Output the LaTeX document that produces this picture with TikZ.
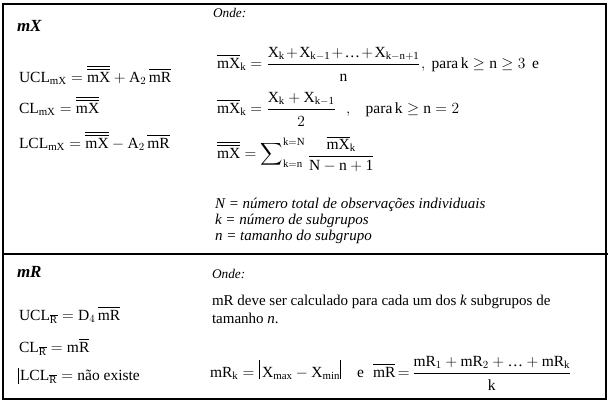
\RequirePackage{fix-cm}
\documentclass[tikz,border=0pt]{standalone}
\usepackage{amsmath,amssymb}
\usepackage{fontspec}
\setmainfont{Liberation Serif}
\newcommand{\rmv}[1]{\mathrm{#1}}
\newcommand{\dstrut}{\rule{0pt}{15pt}}
\newcommand{\absbar}{\mathord{\rule[-1.6pt]{0.8pt}{18.3pt}}}
\newcommand{\eqfont}{\fontsize{15.5}{18}\selectfont}
\newcommand{\txtfont}{\fontsize{15}{18}\selectfont}
\newcommand{\smfont}{\fontsize{13.3}{16}\selectfont\itshape}
\newcommand{\ttlfont}{\fontsize{17}{20}\selectfont\bfseries\itshape}
\begin{document}
\begin{tikzpicture}[x=1pt,y=-1pt,
  txt/.style={anchor=base west,inner sep=0pt,outer sep=0pt,font=\txtfont},
  itx/.style={txt,font=\txtfont\itshape},
  eq/.style={txt,font=\eqfont},
  ttl/.style={txt,font=\ttlfont},
  onde/.style={txt,font=\smfont},
  rule/.style={line width=1.2pt,black}]
\useasboundingbox (0,0) rectangle (610,404);
% table lines
\draw[rule] (3,4) rectangle (606,399);
\coordinate (ml) at (3,254);
\coordinate (mr) at (608,254);
\draw[rule] (ml) -- (mr);

% ---- upper section: mX
\node[ttl] (t1) at (17,32) {mX};
\node[eq] (u1) at (19,82) {$\rmv{UCL}_{\rmv{mX}} = \overline{\overline{\rmv{mX}}} + \rmv{A}_{2}\,\overline{\rmv{mR}}$};
\node[eq] (c1) at (19,113) {$\rmv{CL}_{\rmv{mX}} = \overline{\overline{\rmv{mX}}}$};
\node[eq] (l1) at (19,148) {$\rmv{LCL}_{\rmv{mX}} = \overline{\overline{\rmv{mX}}} - \rmv{A}_{2}\,\overline{\rmv{mR}}$};

\node[onde] (o1) at (213,18) {Onde:};
\node[eq] (f1) at (217,68) {$\medmuskip=1.5mu \overline{\rmv{mX}}_{\rmv{k}} = \dfrac{\rmv{X}_{\rmv{k}} + \rmv{X}_{\rmv{k-1}} + \text{…} + \rmv{X}_{\rmv{k-n+1}}}{\dstrut\rmv{n}}$};
\node[eq] (p1) at (421,68) {$,\ \text{para}\,\rmv{k} \geq \rmv{n} \geq 3$};
\node[eq] (e1) at (532,68) {e};
\node[eq] (f2) at (217,113) {$\overline{\rmv{mX}}_{\rmv{k}} = \dfrac{\rmv{X}_{\rmv{k}} + \rmv{X}_{\rmv{k-1}}}{\dstrut 2}$};
\node[eq] (p2) at (346,113) {$,\;\;\; \text{para}\,\rmv{k} \geq \rmv{n} = 2$};
\node[eq] (f3) at (217,158) {$\overline{\overline{\rmv{mX}}} = \displaystyle\sum\nolimits_{\rmv{k=n}}^{\rmv{k=N}} \raisebox{-2pt}{$\dfrac{\overline{\rmv{mX}}_{\rmv{k}}}{\rmv{N-n+1}}$}$};

\node[itx] (nN) at (215,208) {N = número total de observações individuais};
\node[itx] (nk) at (215,224) {k = número de subgrupos};
\node[itx] (nn) at (215,240) {n = tamanho do subgrupo};

% ---- lower section: mR
\node[ttl] (t2) at (17,277) {mR};
\node[eq] (u2) at (19,320) {$\rmv{UCL}_{\overline{\rmv{R}}} = \rmv{D}_{4}\,\overline{\rmv{mR}}$};
\node[eq] (c2) at (19,352) {$\rmv{CL}_{\overline{\rmv{R}}} = \rmv{m}\overline{\rmv{R}}$};
\node[eq] (l2) at (20,380) {$\rmv{LCL}_{\overline{\rmv{R}}} = \text{não existe}$};
\coordinate (cb1) at (18,368);
\coordinate (cb2) at (18,384);
\draw[line width=0.7pt] (cb1) -- (cb2);

\node[onde] (o2) at (212,278) {Onde:};
\node[txt] (d1) at (212,305) {mR deve ser calculado para cada um dos \textit{k} subgrupos de};
\node[txt] (d2) at (212,323) {tamanho \textit{n}.};
\node[eq] (f4) at (210,377) {$\rmv{mR}_{\rmv{k}} = \absbar\,\rmv{X}_{\rmv{max}} - \rmv{X}_{\rmv{min}}\absbar$};
\node[eq] (e2) at (357,377) {e};
\node[eq] (f5) at (373,377) {$\overline{\rmv{mR}} \mathrel{\mkern-2mu=\mkern-2mu} \dfrac{\rmv{mR}_{1} + \rmv{mR}_{2} + \text{…} + \rmv{mR}_{\rmv{k}}}{\dstrut\rmv{k}}$};
\end{tikzpicture}
\end{document}
